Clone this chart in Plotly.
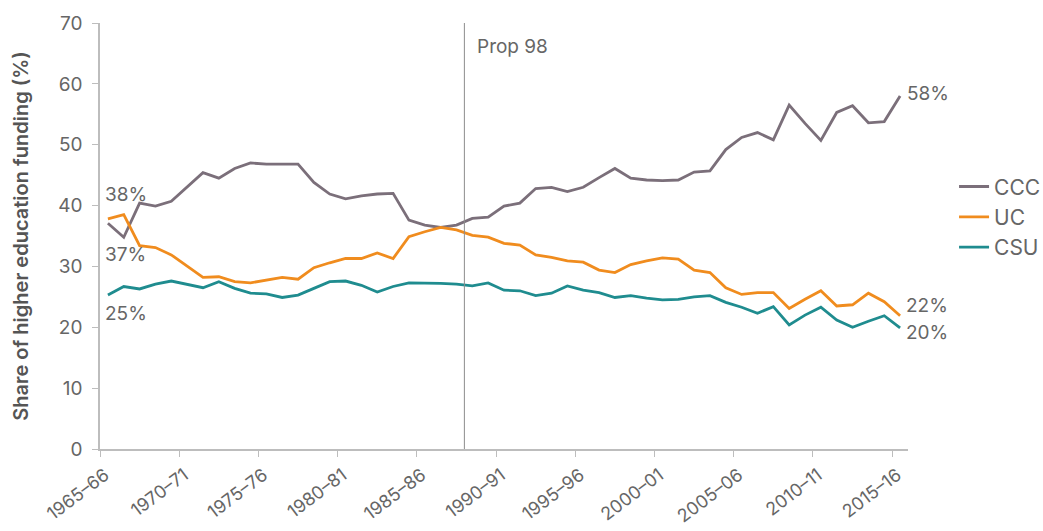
import plotly.graph_objects as go

years = list(range(1965, 2016))  # start year of each fiscal year, 1965-66 .. 2015-16

ccc = [37.1, 34.8, 40.4, 39.9, 40.7, 43.1, 45.4, 44.5, 46.1, 47.0,
       46.8, 46.8, 46.8, 43.8, 41.9, 41.1, 41.6, 41.9, 42.0, 37.6,
       36.8, 36.4, 36.8, 37.9, 38.1, 39.9, 40.4, 42.8, 43.0, 42.3,
       43.0, 44.6, 46.1, 44.5, 44.2, 44.1, 44.2, 45.5, 45.7, 49.2,
       51.2, 52.0, 50.8, 56.5, 53.5, 50.7, 55.3, 56.4, 53.6, 53.8, 58.0]
uc = [37.8, 38.5, 33.4, 33.1, 31.9, 30.0, 28.2, 28.3, 27.5, 27.3,
      27.8, 28.2, 27.9, 29.8, 30.6, 31.3, 31.3, 32.2, 31.3, 34.9,
      35.7, 36.4, 36.0, 35.1, 34.8, 33.8, 33.5, 31.9, 31.5, 30.9,
      30.7, 29.4, 29.0, 30.3, 30.9, 31.4, 31.2, 29.4, 29.0, 26.5,
      25.4, 25.7, 25.7, 23.1, 24.6, 26.0, 23.5, 23.7, 25.6, 24.2, 21.9]
csu = [25.3, 26.7, 26.3, 27.1, 27.6, 27.1, 26.5, 27.5, 26.4, 25.6,
       25.5, 24.9, 25.3, 26.4, 27.5, 27.6, 26.9, 25.8, 26.7, 27.3,
       27.3, 27.2, 27.1, 26.8, 27.3, 26.1, 26.0, 25.2, 25.6, 26.8,
       26.1, 25.7, 24.9, 25.2, 24.8, 24.5, 24.6, 25.0, 25.2, 24.1,
       23.3, 22.3, 23.4, 20.4, 22.0, 23.3, 21.2, 20.0, 21.0, 21.9, 19.9]

tick_years = [1965, 1970, 1975, 1980, 1985, 1990, 1995, 2000, 2005, 2010, 2015]
tick_labels = ["1965–66", "1970–71", "1975–76", "1980–81", "1985–86", "1990–91",
               "1995–96", "2000–01", "2005–06", "2010–11", "2015–16"]
prop98_year = 1988

series = [("CCC", ccc, "#7b6f7a"), ("UC", uc, "#f08c1e"), ("CSU", csu, "#1f8c8f")]

FONT = "Inter"
TXT = "#666666"
AX = "#bdbdbd"

fig = go.Figure()
for name, vals, col in series:
    fig.add_trace(go.Scatter(x=years, y=vals, name=name, mode="lines",
                             line=dict(color=col, width=2.8)))

# Prop 98 line at the start of 1988-89
fig.add_shape(type="line", x0=prop98_year - 0.5, x1=prop98_year - 0.5, y0=0, y1=70,
              xref="x", yref="y", line=dict(color="#8c8c8c", width=1))
fig.add_annotation(x=prop98_year - 0.5, y=70, xref="x", yref="y", text="Prop 98",
                   showarrow=False, xanchor="left", yanchor="middle", xshift=11, yshift=-23,
                   font=dict(family=FONT, size=19, color=TXT))


def label(xv, yv, xs, ys):
    fig.add_annotation(x=xv, y=yv, text=f"{round(yv)}%", showarrow=False,
                       xanchor="left", yanchor="middle", xshift=xs, yshift=ys,
                       font=dict(family=FONT, size=19, color=TXT))


label(years[0], uc[0], -5, 24)
label(years[0], ccc[0], -5, -31)
label(years[0], csu[0], -5, -18)
label(years[-1], ccc[-1], 5, 3)
label(years[-1], uc[-1], 4, 10)
label(years[-1], csu[-1], 4, -5)

fig.update_layout(
    width=1043, height=531,
    margin=dict(l=100, r=135, t=23, b=82, autoexpand=False),
    paper_bgcolor="white", plot_bgcolor="white",
    font=dict(family=FONT, size=16, color=TXT),
    showlegend=True,
    legend=dict(x=1.057, y=0.545, xanchor="left", yanchor="middle",
                font=dict(family=FONT, size=21, color=TXT),
                tracegroupgap=0, itemwidth=30, bgcolor="rgba(0,0,0,0)"),
    xaxis=dict(range=[years[0] - 0.5, years[-1] + 0.5], automargin=False,
               tickvals=[t - 0.5 for t in tick_years], ticktext=tick_labels,
               tickangle=-37, ticks="outside", ticklen=6, tickcolor=AX,
               showline=True, linecolor=AX, linewidth=1.5,
               showgrid=False, zeroline=False, ticklabelshift=5, ticklabelstandoff=1,
               tickfont=dict(family=FONT, size=18, color=TXT)),
    yaxis=dict(range=[0, 70], dtick=10, ticks="outside", ticklen=6, tickcolor=AX,
               showline=True, linecolor=AX, linewidth=1.5, automargin=False,
               showgrid=False, zeroline=False, ticklabelstandoff=6,
               title=dict(text="Share of higher education funding (%)",
                          font=dict(family=FONT, size=20, color="#555555", weight=600),
                          standoff=24),
               tickfont=dict(family=FONT, size=19, color=TXT)),
)

fig.write_html("out.html", config={"displayModeBar": False},
               post_script="document.body.style.margin='0';")
